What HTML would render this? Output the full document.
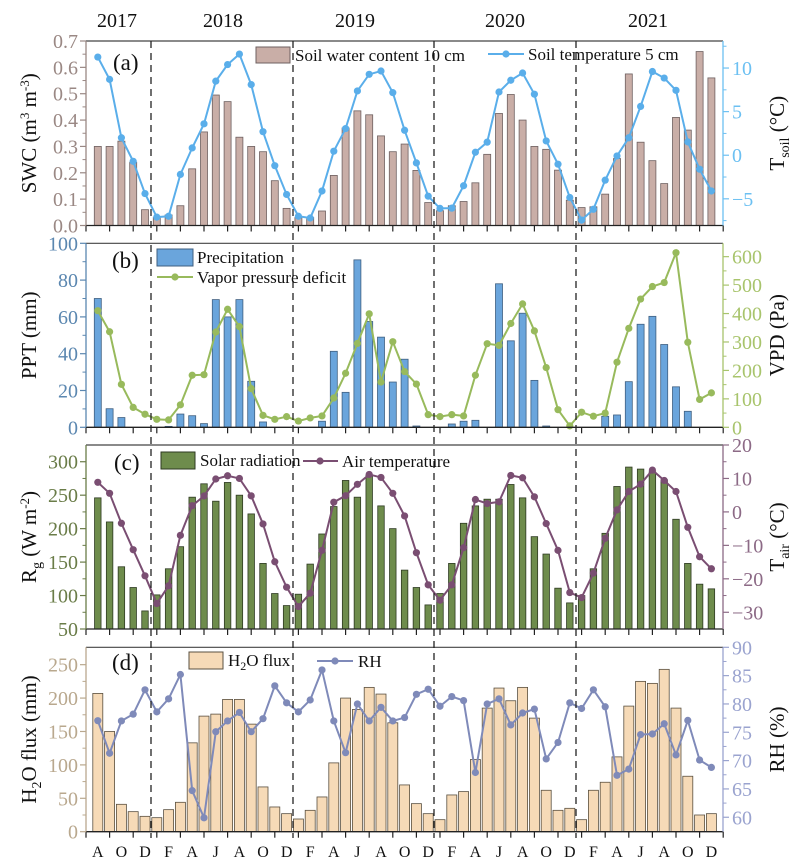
<!DOCTYPE html>
<html><head><meta charset="utf-8"><style>
body{margin:0;background:#fff}
svg{display:block;font-family:"Liberation Serif",serif}
</style></head><body>
<svg id="s" width="800" height="866" xmlns="http://www.w3.org/2000/svg"></svg>
<script>
const S=document.getElementById('s');let h='';
const L=86,R=723;
const X=i=>86+11.8*(i+1);
const panels=[
 {top:41,bot:225.5,
  bars:[.30,.30,.32,.24,.06,.03,.04,.075,.215,.355,.495,.47,.335,.30,.28,.17,.065,.03,.03,.055,.19,.37,.435,.42,.34,.28,.309,.209,.087,.056,.075,.091,.162,.27,.425,.497,.40,.30,.289,.21,.096,.068,.071,.119,.254,.575,.316,.246,.159,.41,.362,.66,.56],
  lmin:0,lmax:.7,bw:7,bfill:'#c9aea7',bstroke:'#6e6060',
  line:[11.26,8.7,2.0,-0.7,-4.4,-7.1,-7.0,-2.2,0.84,3.6,8.5,10.4,11.6,8.1,2.7,-1.2,-4.5,-7.0,-7.2,-4.1,0.46,3.06,7.37,9.28,9.66,7.18,2.86,-0.88,-4.7,-6.1,-6.07,-3.5,0.34,1.5,7.25,8.6,9.43,7.0,1.64,-1.03,-4.85,-7.44,-6.2,-2.86,-0.08,2.0,5.6,9.6,8.85,7.44,1.53,-1.6,-4.1],
  rmin:-8.06,rmax:13.1,lc:'#5aaeea',
  lticks:[0,.1,.2,.3,.4,.5,.6,.7],lfmt:v=>v.toFixed(1),lminor:[.05,.15,.25,.35,.45,.55,.65],
  rticks:[-5,0,5,10],rfmt:v=>v<0?'\u2212'+(-v):''+v,rminor:[-7.5,-2.5,2.5,7.5,12.5],
  lcol:'#9a8884',rcol:'#6cc0f2',
  ltitle:'SWC (m<tspan dy="-7" font-size="13">3</tspan><tspan dy="7"> m</tspan><tspan dy="-7" font-size="13">-3</tspan><tspan dy="7">)</tspan>',
  rtitle:'T<tspan dy="5" font-size="14">soil</tspan><tspan dy="-5"> (°C)</tspan>',
  lab:'(a)',labx:113,laby:70},
 {top:243.3,bot:427.3,
  bars:[70,10.1,5.3,0,0,0,0.5,7.2,6.3,2,69.4,60,69.4,25,2.9,0,0,0,0,3.3,41.3,19,91,57.5,49,24.6,37,0.7,0,0,1.8,3.3,3.8,0,78,47,62,25.5,0.7,0,0,0,0,6,6.7,24.8,56,60.3,45,22,8.7,0,0],
  lmin:0,lmax:100,bw:7,bfill:'#6aa5dc',bstroke:'#3f5f80',
  line:[410,336,151,70,46,28,26,79,183,185,335,415,354,136,42,28,37.5,22,33,40,103,190,295,399,159,301,196,152,44.5,37.5,44.5,40,183,294,288,365,434,339,210,62,5,53,39,50,229,348,451,495,509,614,299,98,121],
  rmin:0,rmax:647,lc:'#98ba5c',
  lticks:[0,20,40,60,80,100],lfmt:v=>''+v,lminor:[10,30,50,70,90],
  rticks:[0,100,200,300,400,500,600],rfmt:v=>''+v,rminor:[50,150,250,350,450,550],
  lcol:'#5b87b0',rcol:'#a8c46c',
  ltitle:'PPT (mm)',rtitle:'VPD (Pa)',lab:'(b)',labx:112,laby:268},
 {top:445,bot:629,
  bars:[246,210,143,112,77,101,140,173,247,267,241,269,250,222,148,103,85,102,147,192,233,272,247,280,234,200,138,112,86,103,148,208,234,244,244,266,246,188,162,111,89,100,140,193,263,292,289,285,273,214,148,117,110],
  lmin:50,lmax:325,bw:6.5,bfill:'#6e8c4c',bstroke:'#2e3a22',
  line:[8.85,5.56,-3.4,-11.3,-19.1,-27.4,-22.1,-7.0,1.86,4.76,9.84,10.8,10.0,4.8,-3.6,-14.9,-22.5,-28.3,-24.3,-11.5,2.9,4.85,8.25,11.2,10.3,5.56,-1.2,-12.2,-21.8,-26.4,-21.8,-10.7,3.7,2.5,3.0,10.9,10.2,4.5,-3.5,-11.5,-24.1,-25.6,-18.3,-7.9,0.6,6.1,8.3,12.5,9.4,6.1,-4.6,-13.4,-17],
  rmin:-35,rmax:20,lc:'#7a4e72',
  lticks:[50,100,150,200,250,300],lfmt:v=>''+v,lminor:[75,125,175,225,275],
  rticks:[-30,-20,-10,0,10,20],rfmt:v=>v<0?'\u2212'+(-v):''+v,rminor:[-25,-15,-5,5,15],
  lcol:'#6a7c48',rcol:'#8c6a86',
  ltitle:'R<tspan dy="5" font-size="14">g</tspan><tspan dy="-5"> (W m</tspan><tspan dy="-7" font-size="13">-2</tspan><tspan dy="7">)</tspan>',
  rtitle:'T<tspan dy="5" font-size="14">air</tspan><tspan dy="-5"> (°C)</tspan>',
  lab:'(c)',labx:114,laby:470},
 {top:647.3,bot:831.7,
  bars:[207,150,41,30,23,21,33,44,133,173,176,198,198,161,67,37,27,19,32,52,103,200,183,216,206,163,70,42,27,18,55,60,108,185,215,196,216,170,62,32,35,18,62,74,112,188,225,222,243,185,83,25,27],
  lmin:0,lmax:276,bw:10,bfill:'#f6dab7',bstroke:'#5a5040',
  line:[77.05,71.3,77,78.2,82.5,78.6,80.9,85.2,64.7,59.9,75.1,77,78.5,75.1,77.4,83.2,80.2,78.6,80.7,86,77,71.4,80,77,79.4,77,77.6,81.7,82.6,79.6,81.3,80.6,67.9,80,80.9,76.3,78.4,79.1,70.3,73.2,80.2,79.2,82.5,79.5,67.4,68.5,74.6,74.7,76.5,71,77.1,70.1,68.8],
  rmin:57.45,rmax:90,lc:'#7f8ab9',
  lticks:[0,50,100,150,200,250],lfmt:v=>''+v,lminor:[25,75,125,175,225],
  rticks:[60,65,70,75,80,85,90],rfmt:v=>''+v,rminor:[62.5,67.5,72.5,77.5,82.5,87.5],
  lcol:'#b9a88e',rcol:'#9aa3cf',
  ltitle:'H<tspan dy="5" font-size="14">2</tspan><tspan dy="-5">O flux (mm)</tspan>',rtitle:'RH (%)',
  lab:'(d)',labx:112,laby:670}
];
panels.forEach((p,pi)=>{
 const H=p.bot-p.top;
 const yl=v=>p.bot-(v-p.lmin)/(p.lmax-p.lmin)*H;
 const yr=v=>p.bot-(v-p.rmin)/(p.rmax-p.rmin)*H;
 // bars
 p.bars.forEach((v,i)=>{if(v<=p.lmin+0.0001)return;const y=yl(v);
  h+=`<rect x="${X(i)-p.bw/2}" y="${y}" width="${p.bw}" height="${p.bot-y}" fill="${p.bfill}" stroke="${p.bstroke}" stroke-width="0.8"/>`;});
 // line
 h+=`<polyline fill="none" stroke="${p.lc}" stroke-width="2" points="${p.line.map((v,i)=>X(i)+','+yr(v)).join(' ')}"/>`;
 p.line.forEach((v,i)=>h+=`<circle cx="${X(i)}" cy="${yr(v)}" r="3.6" fill="${p.lc}"/>`);
 // frame
 h+=`<line x1="${L}" y1="${p.top}" x2="${R}" y2="${p.top}" stroke="#444" stroke-width="1.2"/>`;
 h+=`<line x1="${L}" y1="${p.bot}" x2="${R}" y2="${p.bot}" stroke="#222" stroke-width="1.3"/>`;
 h+=`<line x1="${L}" y1="${p.top}" x2="${L}" y2="${p.bot}" stroke="${p.lcol}" stroke-width="1.3"/>`;
 h+=`<line x1="${R}" y1="${p.top}" x2="${R}" y2="${p.bot}" stroke="${p.rcol}" stroke-width="1.3"/>`;
 for(let k=0;k<=27;k++){const x=86+23.6*k;h+=`<line x1="${x}" y1="${p.bot}" x2="${x}" y2="${p.bot+6}" stroke="#222" stroke-width="1.2"/>`;}
 p.lticks.forEach(v=>{const y=yl(v);h+=`<line x1="${L-6}" y1="${y}" x2="${L}" y2="${y}" stroke="${p.lcol}" stroke-width="1.2"/><text x="${L-8}" y="${y+7}" text-anchor="end" font-size="20" fill="${p.lcol}">${p.lfmt(v)}</text>`;});
 p.lminor.forEach(v=>{const y=yl(v);h+=`<line x1="${L-3.5}" y1="${y}" x2="${L}" y2="${y}" stroke="${p.lcol}" stroke-width="1"/>`;});
 p.rticks.forEach(v=>{const y=yr(v);h+=`<line x1="${R}" y1="${y}" x2="${R+6}" y2="${y}" stroke="${p.rcol}" stroke-width="1.2"/><text x="${R+9}" y="${y+7}" font-size="20" fill="${p.rcol}">${p.rfmt(v)}</text>`;});
 p.rminor.forEach(v=>{const y=yr(v);if(y<p.top||y>p.bot)return;h+=`<line x1="${R}" y1="${y}" x2="${R+3.5}" y2="${y}" stroke="${p.rcol}" stroke-width="1"/>`;});
 const cy=(p.top+p.bot)/2;
 h+=`<text transform="translate(36,${cy}) rotate(-90)" text-anchor="middle" font-size="21" fill="#111">${p.ltitle}</text>`;
 h+=`<text transform="translate(784,${cy}) rotate(-90)" text-anchor="middle" font-size="21" fill="#111">${p.rtitle}</text>`;
 h+=`<text x="${p.labx}" y="${p.laby}" font-size="23" fill="#111">${p.lab}</text>`;
});
// dashed year separators
[151,293,434,576].forEach(x=>h+=`<line x1="${x}" y1="41" x2="${x}" y2="838" stroke="#222" stroke-width="1.3" stroke-dasharray="7,5"/>`);
// legends
const T=(x,y,t)=>`<text x="${x}" y="${y}" font-size="17" fill="#111">${t}</text>`;
h+=`<rect x="256" y="47" width="34" height="16" fill="#c9aea7" stroke="#6e6060"/>`+T(295,61,'Soil water content 10 cm');
h+=`<line x1="488" y1="54" x2="524" y2="54" stroke="#5aaeea" stroke-width="2"/><circle cx="506" cy="54" r="3.6" fill="#5aaeea"/>`+T(528,60,'Soil temperature 5 cm');
h+=`<rect x="157" y="249" width="36" height="17" fill="#6aa5dc" stroke="#3f5f80"/>`+T(197,263,'Precipitation');
h+=`<line x1="157" y1="277" x2="193" y2="277" stroke="#98ba5c" stroke-width="2"/><circle cx="175" cy="277" r="3.6" fill="#98ba5c"/>`+T(197,283,'Vapor pressure deficit');
h+=`<rect x="161" y="452" width="34" height="17" fill="#6e8c4c" stroke="#2e3a22"/>`+T(200,466,'Solar radiation');
h+=`<line x1="303" y1="461" x2="338" y2="461" stroke="#7a4e72" stroke-width="2"/><circle cx="320" cy="461" r="3.6" fill="#7a4e72"/>`+T(342,467,'Air temperature');
h+=`<rect x="189" y="652" width="34" height="17" fill="#f6dab7" stroke="#5a5040"/><text x="228" y="666" font-size="17" fill="#111">H<tspan dy="4" font-size="12">2</tspan><tspan dy="-4">O flux</tspan></text>`;
h+=`<line x1="317" y1="661" x2="353" y2="661" stroke="#7f8ab9" stroke-width="2"/><circle cx="335" cy="661" r="3.6" fill="#7f8ab9"/>`+T(358,667,'RH');
// years
[[117,'2017'],[223,'2018'],[355,'2019'],[505,'2020'],[648,'2021']].forEach(([x,t])=>h+=`<text x="${x}" y="27" text-anchor="middle" font-size="20" fill="#111">${t}</text>`);
// months
const m='AODFAJ'.split('');let seq=['A','O','D'];for(let y=0;y<4;y++)seq.push('F','A','J','A','O','D');
seq.forEach((t,k)=>h+=`<text x="${X(2*k)}" y="857" text-anchor="middle" font-size="16" fill="#111">${t}</text>`);
S.innerHTML=h;
</script>
</body></html>
